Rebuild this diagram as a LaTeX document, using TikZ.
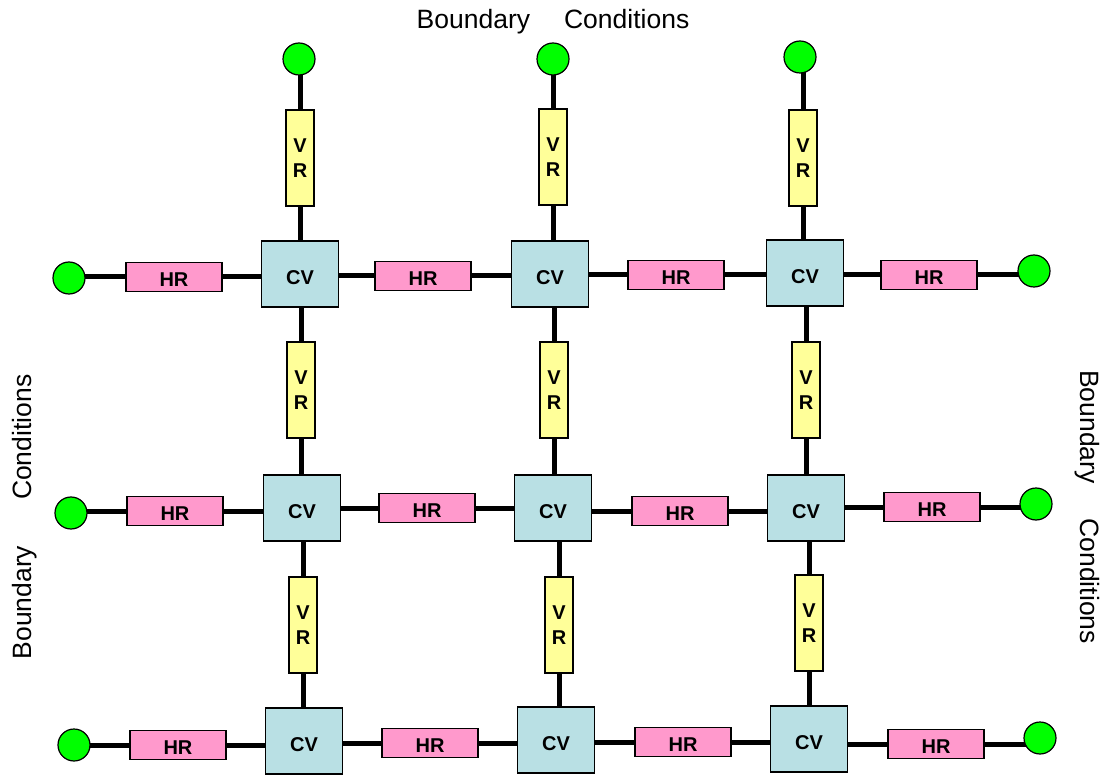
\documentclass[tikz,border=0pt]{standalone}
\usepackage{fontspec}
\setmainfont{Liberation Sans}
\usetikzlibrary{backgrounds}
\definecolor{cvblue}{RGB}{185,224,228}
\definecolor{hrpink}{RGB}{255,153,204}
\definecolor{vryellow}{RGB}{255,255,153}
\definecolor{bcgreen}{RGB}{0,255,0}
\begin{document}
\begin{tikzpicture}[x=1pt,y=-1pt,
 box/.style={draw=black, line width=1.2pt, inner sep=0pt, font=\bfseries\fontsize{20}{25.5}\selectfont},
 cvbox/.style={box, fill=cvblue, minimum width=77pt, minimum height=66pt, text height=21pt, text depth=0pt},
 hrbox/.style={box, fill=hrpink, minimum width=96pt, minimum height=29pt, text height=19pt, text depth=0pt},
 vrbox/.style={box, fill=vryellow, minimum width=28pt, minimum height=96pt, align=center},
 bcdot/.style={circle, draw=black, line width=1.2pt, fill=bcgreen, minimum size=32pt, inner sep=0pt},
 wire/.style={line width=5pt},
 bctext/.style={font=\fontsize{26.5}{30}\selectfont, inner sep=0pt, anchor=base}]
\useasboundingbox (0,0) rectangle (1111,775);

% control volumes
\node[cvbox] (cv11) at (300,274) {CV};
\node[cvbox] (cv12) at (550,274) {CV};
\node[cvbox] (cv13) at (805,273) {CV};
\node[cvbox] (cv21) at (302,508) {CV};
\node[cvbox] (cv22) at (553,508) {CV};
\node[cvbox] (cv23) at (806,508) {CV};
\node[cvbox] (cv31) at (304,741) {CV};
\node[cvbox] (cv32) at (556,740) {CV};
\node[cvbox] (cv33) at (809,739) {CV};

% horizontal resistances
\node[hrbox] (hr11) at (174,277) {HR};
\node[hrbox] (hr12) at (423,276) {HR};
\node[hrbox] (hr13) at (676,275) {HR};
\node[hrbox] (hr14) at (929,275) {HR};
\node[hrbox] (hr21) at (175,511) {HR};
\node[hrbox] (hr22) at (427,508) {HR};
\node[hrbox] (hr23) at (680,511) {HR};
\node[hrbox] (hr24) at (932,507) {HR};
\node[hrbox] (hr31) at (178,745) {HR};
\node[hrbox] (hr32) at (430,743) {HR};
\node[hrbox] (hr33) at (683,742) {HR};
\node[hrbox] (hr34) at (936,744) {HR};

% vertical resistances
\node[vrbox] (vr11) at (300,158) {V\\R};
\node[vrbox] (vr12) at (553,157) {V\\R};
\node[vrbox] (vr13) at (803,158) {V\\R};
\node[vrbox] (vr21) at (301,390) {V\\R};
\node[vrbox] (vr22) at (554,390) {V\\R};
\node[vrbox] (vr23) at (806,390) {V\\R};
\node[vrbox] (vr31) at (303,625) {V\\R};
\node[vrbox] (vr32) at (559,625) {V\\R};
\node[vrbox] (vr33) at (809,623) {V\\R};

% boundary nodes
\node[bcdot] (t1) at (299,59) {};
\node[bcdot] (t2) at (553,59) {};
\node[bcdot] (t3) at (800,57) {};
\node[bcdot] (l1) at (69,278) {};
\node[bcdot] (l2) at (71,513) {};
\node[bcdot] (l3) at (74,745) {};
\node[bcdot] (r1) at (1034,271) {};
\node[bcdot] (r2) at (1036,504) {};
\node[bcdot] (r3) at (1040,738) {};

% labels
\node[bctext] (ttop) at (553,29) {Boundary\hspace*{34pt}Conditions};
\node[bctext, rotate=90] (tleft) at (31,517) {Boundary\hspace*{46pt}Conditions};
\node[bctext, rotate=-90] (tright) at (1080,507) {Boundary\hspace*{35pt}Conditions};

% connectors
\begin{scope}[on background layer]
\foreach \r in {1,2,3}{
  \draw[wire] (l\r.center) -- (hr\r1.center -| l\r.center) -- (hr\r1.center);
  \draw[wire] (hr\r1.center) -- (hr\r1.center -| cv\r1.center);
  \draw[wire] (hr\r2.center) -- (hr\r2.center -| cv\r1.center);
  \draw[wire] (hr\r2.center) -- (hr\r2.center -| cv\r2.center);
  \draw[wire] (hr\r3.center) -- (hr\r3.center -| cv\r2.center);
  \draw[wire] (hr\r3.center) -- (hr\r3.center -| cv\r3.center);
  \draw[wire] (hr\r4.center) -- (hr\r4.center -| cv\r3.center);
  \draw[wire] (hr\r4.center) -- (hr\r4.center -| r\r.center) -- (r\r.center);
}
\foreach \c in {1,2,3}{
  \draw[wire] (vr1\c.center) -- (vr1\c.center |- t\c.center);
  \draw[wire] (vr1\c.center) -- (vr1\c.center |- cv1\c.center);
  \draw[wire] (vr2\c.center) -- (vr2\c.center |- cv1\c.center);
  \draw[wire] (vr2\c.center) -- (vr2\c.center |- cv2\c.center);
  \draw[wire] (vr3\c.center) -- (vr3\c.center |- cv2\c.center);
  \draw[wire] (vr3\c.center) -- (vr3\c.center |- cv3\c.center);
}
\end{scope}
\end{tikzpicture}
\end{document}
